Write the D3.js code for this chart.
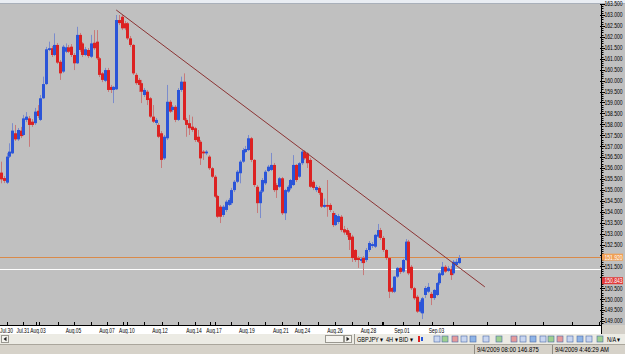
<!DOCTYPE html>
<html><head><meta charset="utf-8">
<script src="https://cdn.jsdelivr.net/npm/d3@7"></script>
<style>
body{margin:0;background:#d4d0c8;}
svg{display:block;font-family:"Liberation Sans",Arial,sans-serif;}
</style>
</head><body><svg id="c" width="625" height="354"></svg>
<script>
// ---- data (GBP/JPY 4H candles) ----
const opens = [155.79,155.54,155.33,156.52,156.67,157.59,157.31,157.71,157.51,158.20,
158.27,158.12,158.05,158.62,158.20,159.19,159.84,161.40,161.48,161.17,
161.63,160.86,160.41,161.32,161.52,161.55,161.17,160.79,162.09,161.70,
161.17,161.40,161.09,161.73,161.78,161.02,160.33,159.99,160.48,159.71,
159.57,159.60,162.77,162.92,162.62,162.62,161.93,161.63,160.26,160.03,
159.88,159.34,159.49,159.19,158.35,158.06,157.97,157.59,156.44,157.36,
159.03,158.65,158.80,158.20,159.57,159.95,158.20,158.05,157.89,157.82,
157.43,157.20,156.75,156.67,156.52,155.99,155.60,154.72,154.23,153.85,
154.08,154.31,154.39,154.99,155.37,155.76,156.29,156.73,156.82,157.36,
156.37,155.14,154.39,154.92,155.30,155.86,155.91,156.14,155.22,155.14,
155.53,153.93,154.92,155.07,155.22,156.14,155.60,156.22,156.75,156.67,
156.37,155.37,154.99,155.09,154.86,154.22,154.31,154.31,153.94,153.39,
153.53,153.77,153.20,153.16,153.03,152.86,152.25,151.88,151.75,151.88,151.79,152.25,152.43,
152.40,152.86,153.16,152.80,152.25,151.88,150.51,150.34,151.03,151.43,
151.26,151.79,152.63,151.48,150.50,150.11,149.43,149.35,
150.19,150.34,150.24,150.05,150.19,150.73,151.10,151.48,151.29,
151.37,151.18,151.56,151.65];
const highs = [156.29,155.63,156.69,157.13,158.05,157.97,157.83,157.88,158.43,158.56,
158.38,158.24,158.75,158.88,159.34,160.18,161.54,161.78,161.58,162.16,
161.72,160.94,161.63,161.70,161.63,161.67,161.26,162.46,162.18,161.76,
161.54,161.49,162.09,162.31,162.31,161.08,160.39,160.58,160.58,159.80,
159.75,163.00,163.00,163.00,162.73,162.68,162.04,161.67,160.35,160.12,
160.03,159.66,159.57,159.25,158.88,158.29,158.06,157.69,157.51,159.80,
159.11,158.88,158.88,159.66,160.18,160.33,158.29,158.43,158.35,157.88,
157.74,157.28,156.82,156.82,156.59,156.05,155.68,154.77,154.31,154.31,
154.54,154.63,155.09,155.45,155.91,156.37,156.92,157.01,157.51,157.42,
156.41,155.22,154.99,155.54,155.91,156.14,156.69,156.23,155.31,155.59,
155.59,155.04,155.22,155.50,156.59,156.18,156.27,156.82,156.82,156.73,
156.46,155.45,155.22,155.18,154.90,154.60,155.45,154.39,154.03,153.94,
153.90,153.85,153.35,153.26,153.12,152.94,152.29,151.97,151.93,151.97,152.34,152.66,152.61,
152.98,153.44,153.26,152.89,152.29,151.93,150.56,151.06,151.47,151.47,
151.84,152.75,152.71,151.56,150.56,150.19,149.96,150.10,
150.60,150.74,150.33,150.46,150.78,151.24,151.70,151.56,151.52,
151.52,151.79,151.84,152.02];
const lows = [155.30,155.31,155.27,156.46,156.64,157.24,157.24,157.37,157.46,158.10,
156.97,157.88,157.97,158.29,158.15,159.16,159.80,161.35,161.08,161.12,
160.76,160.03,160.35,161.26,161.26,161.08,160.48,160.76,161.31,161.08,
161.12,161.03,161.03,161.40,160.94,160.16,159.93,159.93,159.48,159.43,
158.97,159.57,162.54,162.31,162.31,161.86,161.54,160.26,159.80,159.48,
158.97,159.25,158.88,158.29,158.06,157.97,157.37,156.00,156.37,157.28,
158.52,158.56,158.10,158.15,159.48,158.15,157.43,157.51,157.65,157.19,
157.14,156.14,156.37,156.59,155.91,155.54,154.63,153.71,153.48,153.76,
153.99,154.26,154.31,154.90,155.31,155.30,156.23,156.69,156.78,156.27,
155.13,153.94,153.71,154.86,155.22,155.82,155.86,154.90,154.63,155.09,
153.85,153.62,154.86,154.99,155.18,155.36,155.54,156.14,156.37,156.00,
155.09,154.99,154.90,154.77,154.17,154.17,153.77,153.99,153.30,153.35,
153.44,153.07,152.95,152.84,152.25,151.70,151.70,151.43,151.65,151.10,151.70,152.16,152.34,
152.34,152.80,152.71,152.16,151.79,150.05,150.28,150.28,150.97,151.15,
151.20,151.75,151.10,150.42,149.96,149.37,149.37,149.09,
150.05,150.28,149.73,149.96,150.14,150.65,151.06,151.20,151.24,
150.88,151.10,151.52,151.61];
const closes = [155.48,155.41,156.52,156.75,157.71,157.31,157.74,157.46,158.27,158.35,
157.97,157.97,158.58,158.38,159.19,159.84,161.43,161.48,161.17,161.63,
160.82,160.33,161.55,161.52,161.32,161.17,160.79,162.09,161.40,161.17,
161.43,161.12,161.70,161.48,161.02,160.26,160.03,160.48,159.57,159.57,
159.71,162.77,162.63,162.39,162.39,161.93,161.63,160.33,159.88,159.80,
159.49,159.57,159.11,158.35,158.12,158.20,157.43,156.37,157.43,159.03,
158.58,158.80,158.20,159.57,159.95,158.20,157.97,157.82,157.74,157.28,
157.20,156.44,156.67,156.75,155.99,155.60,154.69,153.77,153.77,154.23,
154.46,154.54,154.99,155.37,155.83,156.29,156.82,156.87,157.36,156.37,
155.22,154.39,154.92,155.45,155.83,156.06,156.14,154.99,154.99,155.53,
153.93,154.99,155.14,155.45,156.14,155.45,156.22,156.75,156.44,156.22,
155.14,155.09,155.13,154.86,154.23,154.31,154.23,154.08,153.39,153.85,
153.80,153.16,153.05,152.94,152.71,151.88,151.79,151.79,151.84,151.65,152.25,152.57,152.52,
152.94,153.16,152.80,152.25,151.88,150.34,150.34,151.03,151.43,151.24,
151.79,152.63,151.18,150.50,150.04,149.43,149.88,150.04,
150.51,150.56,150.05,150.42,150.74,151.18,151.48,151.26,151.41,
151.10,151.71,151.71,151.88];

const priceTicks = [149.0,149.5,150.0,150.5,151.0,151.5,152.0,152.5,153.0,153.5,154.0,154.5,155.0,155.5,156.0,156.5,157.0,157.5,158.0,158.5,159.0,159.5,160.0,160.5,161.0,161.5,162.0,162.5,163.0,163.5];
const dayTickIndex = [2.03,7.83,12.46,13.63,20.18,25.98,31.92,37.83,43.52,44.95,50.89,57.19,62.88,69.04,74.38,76.16,82.03,88.01,93.95,99.89,105.69,106.41,112.81,118.86,124.8,130.78,135.48,135.94,143.06,148.75,153.27,160.85,172.95,182.92,192.88,203.1,212.81];
const dateLabels = ["Jul.30","Jul.31","Aug.03","Aug.05","Aug.07","Aug.10","Aug.12","Aug.14","Aug.17","Aug.19","Aug.21","Aug.24","Aug.26","Aug.28","Sep.01","Sep.03"];
const dateLabelIndex = [1.96,7.83,13.17,25.8,37.7,44.8,56.6,68.7,75.8,87.5,99.6,107.3,118.9,130.8,142.7,155.0];
const trendIndex = [41, 172.2];
const trendPrice = [163.23, 150.56];
const orangeLevel = 151.92;
const whiteLevel = 151.36;
const redMarker = 150.843;

// ---- layout ----
const N = closes.length;
const svg = d3.select('#c');
const x = d3.scaleLinear().domain([0, N - 1]).range([1, 459]);
const y = d3.scaleLinear().domain([149, 163]).range([321, 15]);
const plotR = 601, plotT = 4, plotB = 325;
const fmt = d3.format('.3f');

svg.append('rect').attr('width', 625).attr('height', 354).attr('fill', '#d4d0c8');
svg.append('rect').attr('x', 0).attr('y', plotT).attr('width', 625).attr('height', plotB - plotT).attr('fill', '#c0c0c0');

// title strip
svg.append('rect').attr('x', 0).attr('y', 0).attr('width', 625).attr('height', 3.5).attr('fill', '#e9edf3');
svg.append('line').attr('x1', 0).attr('x2', 625).attr('y1', 3.5).attr('y2', 3.5).attr('stroke', '#a9b0ba');

const defs = svg.append('defs');
defs.append('clipPath').attr('id', 'pc').append('rect').attr('x', 0).attr('y', plotT).attr('width', plotR).attr('height', plotB - plotT);
const g = svg.append('g').attr('clip-path', 'url(#pc)');

// horizontal levels
g.append('line').attr('x1', 0).attr('x2', plotR).attr('y1', Math.round(y(orangeLevel)) + 0.5).attr('y2', Math.round(y(orangeLevel)) + 0.5).attr('stroke', '#d98a4a').attr('stroke-width', 1.2);
g.append('line').attr('x1', 0).attr('x2', plotR).attr('y1', Math.round(y(whiteLevel)) + 0.5).attr('y2', Math.round(y(whiteLevel)) + 0.5).attr('stroke', '#ffffff');

// candles
const idx = d3.range(N);
const up = i => closes[i] >= opens[i];
g.selectAll('rect.wick').data(idx).join('rect').attr('class', 'wick')
  .attr('x', i => Math.round(x(i)))
  .attr('width', 1)
  .attr('y', i => y(highs[i]))
  .attr('height', i => Math.max(1, y(lows[i]) - y(highs[i])))
  .attr('fill', i => up(i) ? '#7b8ccc' : '#c77a7a');
g.selectAll('rect.body').data(idx).join('rect').attr('class', 'body')
  .attr('x', i => Math.round(x(i)) - 1)
  .attr('width', 3)
  .attr('y', i => y(Math.max(opens[i], closes[i])))
  .attr('height', i => Math.max(1, Math.abs(y(opens[i]) - y(closes[i]))))
  .attr('fill', i => up(i) ? '#2b55d8' : '#dc2222');

// trend line
g.append('line')
  .attr('x1', x(trendIndex[0])).attr('y1', y(trendPrice[0]))
  .attr('x2', x(trendIndex[1])).attr('y2', y(trendPrice[1]))
  .attr('stroke', '#8c3434').attr('stroke-width', 1);

// price axis
svg.append('line').attr('x1', plotR + 0.5).attr('x2', plotR + 0.5).attr('y1', plotT).attr('y2', 344).attr('stroke', '#000');
const minor = d3.range(148.9, 163.6, 0.1);
svg.append('g').selectAll('line').data(minor).join('line')
  .attr('x1', plotR).attr('x2', plotR + 2.5)
  .attr('y1', d => Math.round(y(d)) + 0.5).attr('y2', d => Math.round(y(d)) + 0.5)
  .attr('stroke', '#000');
const markers = [orangeLevel, redMarker];
const shown = priceTicks.filter(d => markers.every(m => Math.abs(y(d) - y(m)) > 6));
svg.append('g').selectAll('line').data(priceTicks).join('line')
  .attr('x1', plotR - 1).attr('x2', plotR + 4)
  .attr('y1', d => Math.round(y(d)) + 0.5).attr('y2', d => Math.round(y(d)) + 0.5).attr('stroke', '#000');
svg.append('g').selectAll('text').data(shown).join('text')
  .attr('transform', d => `translate(604.5,${y(d) + 2.4}) scale(0.72,1)`)
  .attr('font-size', 7).attr('fill', '#000')
  .text(d => fmt(d));

// price markers
function marker(price, fill) {
  const yy = y(price);
  svg.append('rect').attr('x', 602).attr('y', yy - 3.5).attr('width', 21).attr('height', 7).attr('fill', fill);
  svg.append('text').attr('transform', `translate(604.5,${yy + 2.4}) scale(0.72,1)`)
    .attr('font-size', 7).attr('fill', '#fff').text(fmt(price));
}
marker(orangeLevel, '#f0a055');
marker(redMarker, '#e13a3a');

// time axis
svg.append('rect').attr('x', 0).attr('y', plotB).attr('width', plotR).attr('height', 9).attr('fill', '#ffffff');
svg.append('line').attr('x1', 0).attr('x2', plotR).attr('y1', plotB + 0.5).attr('y2', plotB + 0.5).attr('stroke', '#000');
svg.append('g').selectAll('line').data(dayTickIndex).join('line')
  .attr('x1', d => Math.round(x(d)) + 0.5).attr('x2', d => Math.round(x(d)) + 0.5)
  .attr('y1', plotB - 3).attr('y2', plotB + 1).attr('stroke', '#000');
svg.append('g').selectAll('text').data(dateLabels).join('text')
  .attr('transform', (d, i) => `translate(${x(dateLabelIndex[i])},${plotB + 7.5}) scale(0.7,1)`)
  .attr('text-anchor', 'middle').attr('font-size', 7).attr('fill', '#000')
  .text(d => d);

// scroll bar + toolbar
svg.append('rect').attr('x', 0).attr('y', 334).attr('width', 625).attr('height', 10).attr('fill', '#ecebe4');
svg.append('rect').attr('x', 1.5).attr('y', 335.5).attr('width', 7).attr('height', 7).attr('fill', '#f4f3ee').attr('stroke', '#9a9890');
svg.append('path').attr('d', 'M6.5,336.8 L3.5,339 L6.5,341.2 Z').attr('fill', '#222');
svg.append('rect').attr('x', 325.5).attr('y', 335.5).attr('width', 18).attr('height', 7).attr('fill', '#f4f3ee').attr('stroke', '#9a9890');
svg.append('rect').attr('x', 344.5).attr('y', 335.5).attr('width', 7).attr('height', 7).attr('fill', '#f4f3ee').attr('stroke', '#9a9890');
svg.append('path').attr('d', 'M346.5,336.8 L349.5,339 L346.5,341.2 Z').attr('fill', '#222');
svg.append('line').attr('x1', 354.5).attr('x2', 354.5).attr('y1', 334).attr('y2', 344).attr('stroke', '#9a9890');
const tb = [['GBPJPY ▾', 357], ['4H ▾', 386], ['BID ▾', 399], ['N/A ▾', 607]];
svg.append('g').selectAll('text').data(tb).join('text')
  .attr('transform', d => `translate(${d[1]},341.5) scale(0.85,1)`)
  .attr('font-size', 6.5).attr('fill', '#000').text(d => d[0]);
// toolbar icons
const icons = [434, 442, 452, 461, 470, 483, 496, 511, 520, 530, 540, 548, 557, 567, 577, 586, 597];
svg.append('g').selectAll('rect').data(icons).join('rect')
  .attr('x', d => d).attr('y', 336).attr('width', 6).attr('height', 6)
  .attr('fill', (d, i) => ['#c9d6f0', '#9fd08f', '#e79a9a', '#c9d6f0', '#8fb4e6'][i % 5])
  .attr('stroke', '#4a6aa8').attr('stroke-width', 0.6);
svg.append('rect').attr('x', 418).attr('y', 336).attr('width', 2).attr('height', 6).attr('fill', '#d22');
svg.append('rect').attr('x', 421).attr('y', 337).attr('width', 2).attr('height', 4).attr('fill', '#25d');

// status bar
svg.append('rect').attr('x', 0).attr('y', 344).attr('width', 625).attr('height', 10).attr('fill', '#d6d2c9');
svg.append('line').attr('x1', 0).attr('x2', 625).attr('y1', 344.5).attr('y2', 344.5).attr('stroke', '#aaa69c');
[474.5, 552.5].forEach(xx => svg.append('line').attr('x1', xx).attr('x2', xx).attr('y1', 345).attr('y2', 354).attr('stroke', '#8f8b82'));
svg.append('text').attr('transform', 'translate(477,352) scale(0.9,1)').attr('font-size', 6.5).attr('fill', '#000').text('9/4/2009 08:00   146.875');
svg.append('text').attr('transform', 'translate(555,352) scale(0.9,1)').attr('font-size', 6.5).attr('fill', '#000').text('9/4/2009 4:46:29 AM');
</script>
</body></html>
